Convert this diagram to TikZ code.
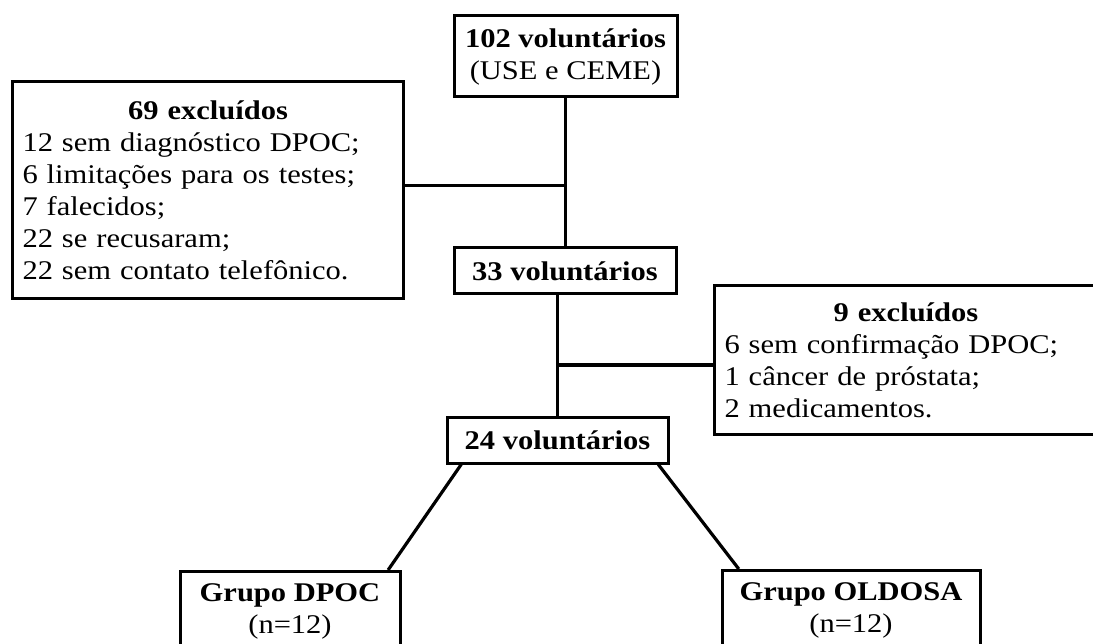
\documentclass[tikz,border=0pt]{standalone}
\usepackage{fontspec}
\setmainfont{Liberation Serif}[FakeStretch=1.13]
\usetikzlibrary{calc}

\begin{document}
\begin{tikzpicture}[
		x=1pt, y=-1pt,
		box/.style={draw, line width=3pt, inner sep=0pt, align=center,
			font=\fontsize{27}{32}\selectfont},
		exbox/.style={box, anchor=north west, align=left, inner xsep=10pt},
		group/.style={box, anchor=north, minimum height=80pt},
		link/.style={line width=3.2pt}
		]
		
		% Page frame
		\useasboundingbox (0,0) rectangle (1093,644);
		
		% Main flow of volunteers
		\node[box, minimum width=223pt, minimum height=81pt] (v102) at (565.5,56.5) {\textbf{102 voluntários}\\(USE e CEME)};
		\node[box, minimum width=222pt, minimum height=46pt] (v33) at (565,271) {\textbf{33 voluntários}};
		\node[box, minimum width=221pt, minimum height=46pt] (v24) at (557.5,440) {\textbf{24 voluntários}};
		
		% Exclusion boxes
		\node[exbox, text width=371pt, minimum height=217pt] (ex69) at (11,80) {
			\makebox[\hsize][c]{\textbf{69 excluídos}}\\
			12 sem diagnóstico DPOC;\\
			6 limitações para os testes;\\
			7 falecidos;\\
			22 se recusaram;\\
			22 sem contato telefônico.};
		\node[exbox, text width=363pt, minimum height=149pt] (ex9) at (713,284) {
			\makebox[\hsize][c]{\textbf{9 excluídos}}\\
			6 sem confirmação DPOC;\\
			1 câncer de próstata;\\
			2 medicamentos.};
		
		% Final groups (cut by the page bottom)
		\node[group, minimum width=220pt] (gdpoc) at (290,570) {\textbf{Grupo DPOC}\\(n=12)};
		\node[group, minimum width=258pt] (goldosa) at (851,569) {\textbf{Grupo OLDOSA}\\(n=12)};
		
		% Junctions on the vertical links
		\path (v102.south) -- (v102.south |- v33.north) coordinate[pos=0.59] (j1);
		\path (v24.north |- v33.south) -- (v24.north) coordinate[pos=0.58] (j2);
		
		% Connectors
		\draw[link] (v102.south) -- (v102.south |- v33.north);
		\draw[link] (j1 -| ex69.east) -- (j1);
		\draw[link] (v24.north |- v33.south) -- (v24.north);
		\draw[link] (j2) -- (j2 -| ex9.west);
		\draw[link] ($(v24.south west)!0.07!(v24.south east)$) -- ($(gdpoc.north west)!0.94!(gdpoc.north east)$);
		\draw[link] ($(v24.south west)!0.95!(v24.south east)$) -- ($(goldosa.north west)!0.07!(goldosa.north east)$);
		
	\end{tikzpicture}
\end{document}
